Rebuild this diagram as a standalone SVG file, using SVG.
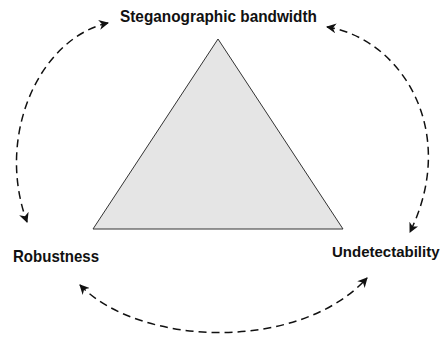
<svg xmlns="http://www.w3.org/2000/svg" width="442" height="338" viewBox="0 0 442 338">
  <style>
    .label { font-family: "Liberation Sans", Arial, sans-serif; font-weight: bold; font-size: 16.5px; fill: #111; }
    .link { fill: none; stroke: #111; stroke-width: 1.5; stroke-dasharray: 8 5; }
  </style>
  <defs>
    <marker id="arrow" viewBox="0 0 10 10" refX="9" refY="5" markerWidth="10" markerHeight="10" markerUnits="userSpaceOnUse" orient="auto-start-reverse">
      <path d="M0,0 L10,5 L0,10 L3,5 z" fill="#111"/>
    </marker>
  </defs>

  <!-- central triangle -->
  <g id="triangle">
    <polygon points="218,39 93,229 343,229" fill="#e5e5e5" stroke="#333" stroke-width="1"/>
  </g>

  <!-- corner labels (slightly condensed bold sans) -->
  <g id="bandwidth">
    <text class="label" x="120" y="22" textLength="197" lengthAdjust="spacingAndGlyphs">Steganographic bandwidth</text>
  </g>
  <g id="robustness">
    <text class="label" x="13" y="262" textLength="86" lengthAdjust="spacingAndGlyphs">Robustness</text>
  </g>
  <g id="undetectability">
    <text class="label" x="332" y="256.5" style="font-size:15px">Undetectability</text>
  </g>

  <!-- trade-off arcs between the three properties -->
  <g id="connectors">
    <path class="link" d="M108,23 C40,38 -5,135 27,222" marker-start="url(#arrow)" marker-end="url(#arrow)"/>
    <path class="link" d="M327,27 C400,38 460,130 410,232" marker-start="url(#arrow)" marker-end="url(#arrow)"/>
    <path class="link" d="M80,285 C140,347 300,352 367,278" marker-start="url(#arrow)" marker-end="url(#arrow)"/>
  </g>
</svg>
